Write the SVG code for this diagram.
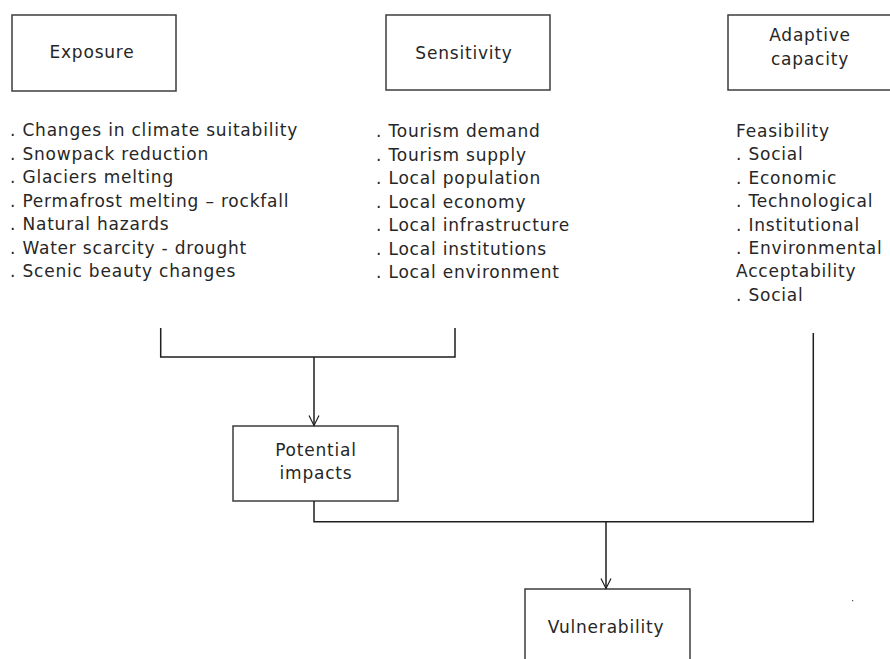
<svg xmlns="http://www.w3.org/2000/svg" width="890" height="659" viewBox="0 0 890 659">
  <style>
    .box { fill: #ffffff; stroke: #3c3c3c; stroke-width: 1.5; }
    .lbl { font-family: "DejaVu Sans", Verdana, sans-serif; font-size: 17px; letter-spacing: 0.8px; fill: #262626; }
    .mid { text-anchor: middle; }
    .wire { fill: none; stroke: #1e1e1e; stroke-width: 1.5; }
  </style>
  <defs>
    <marker id="vee" viewBox="0 0 12 12" refX="11" refY="6" markerWidth="12" markerHeight="12" markerUnits="userSpaceOnUse" orient="auto">
      <path d="M1,1 L11,6 L1,11" fill="none" stroke="#1e1e1e" stroke-width="1.2"/>
    </marker>
  </defs>
  <rect width="890" height="659" fill="#ffffff"/>

  <g id="exposure">
    <rect class="box" x="12" y="15" width="164" height="76"/>
    <text class="lbl mid" x="92" y="58">Exposure</text>
    <text class="lbl" x="10" y="136">
      <tspan x="10" dy="0">. Changes in climate suitability</tspan>
      <tspan x="10" dy="23.5">. Snowpack reduction</tspan>
      <tspan x="10" dy="23.5">. Glaciers melting</tspan>
      <tspan x="10" dy="23.5">. Permafrost melting – rockfall</tspan>
      <tspan x="10" dy="23.5">. Natural hazards</tspan>
      <tspan x="10" dy="23.5">. Water scarcity - drought</tspan>
      <tspan x="10" dy="23.5">. Scenic beauty changes</tspan>
    </text>
  </g>

  <g id="sensitivity">
    <rect class="box" x="386" y="15" width="164" height="75"/>
    <text class="lbl mid" x="464" y="59">Sensitivity</text>
    <text class="lbl" x="376" y="137">
      <tspan x="376" dy="0">. Tourism demand</tspan>
      <tspan x="376" dy="23.5">. Tourism supply</tspan>
      <tspan x="376" dy="23.5">. Local population</tspan>
      <tspan x="376" dy="23.5">. Local economy</tspan>
      <tspan x="376" dy="23.5">. Local infrastructure</tspan>
      <tspan x="376" dy="23.5">. Local institutions</tspan>
      <tspan x="376" dy="23.5">. Local environment</tspan>
    </text>
  </g>

  <g id="adaptive-capacity">
    <rect class="box" x="728" y="15" width="170" height="75"/>
    <text class="lbl mid" x="810" y="41">Adaptive</text>
    <text class="lbl mid" x="810" y="65">capacity</text>
    <text class="lbl" x="736" y="137">
      <tspan x="736" dy="0">Feasibility</tspan>
      <tspan x="736" dy="23.4">. Social</tspan>
      <tspan x="736" dy="23.4">. Economic</tspan>
      <tspan x="736" dy="23.4">. Technological</tspan>
      <tspan x="736" dy="23.4">. Institutional</tspan>
      <tspan x="736" dy="23.4">. Environmental</tspan>
      <tspan x="736" dy="23.4">Acceptability</tspan>
      <tspan x="736" dy="23.4">. Social</tspan>
    </text>
  </g>

  <g id="potential-impacts">
    <rect class="box" x="233" y="426" width="165" height="75"/>
    <text class="lbl mid" x="316" y="456">Potential</text>
    <text class="lbl mid" x="316" y="479">impacts</text>
  </g>

  <g id="vulnerability">
    <rect class="box" x="525" y="589" width="165" height="90"/>
    <text class="lbl mid" x="606" y="633">Vulnerability</text>
  </g>

  <g id="connectors">
    <path class="wire" d="M160.7,328 V357 H455 V328"/>
    <path class="wire" d="M314,357 V425.5" marker-end="url(#vee)"/>
    <path class="wire" d="M314,501 V521.7 H813.3 V333"/>
    <path class="wire" d="M606,521.7 V588.5" marker-end="url(#vee)"/>
  </g>

  <rect x="852" y="600" width="1.2" height="1.2" fill="#555555"/>
</svg>
